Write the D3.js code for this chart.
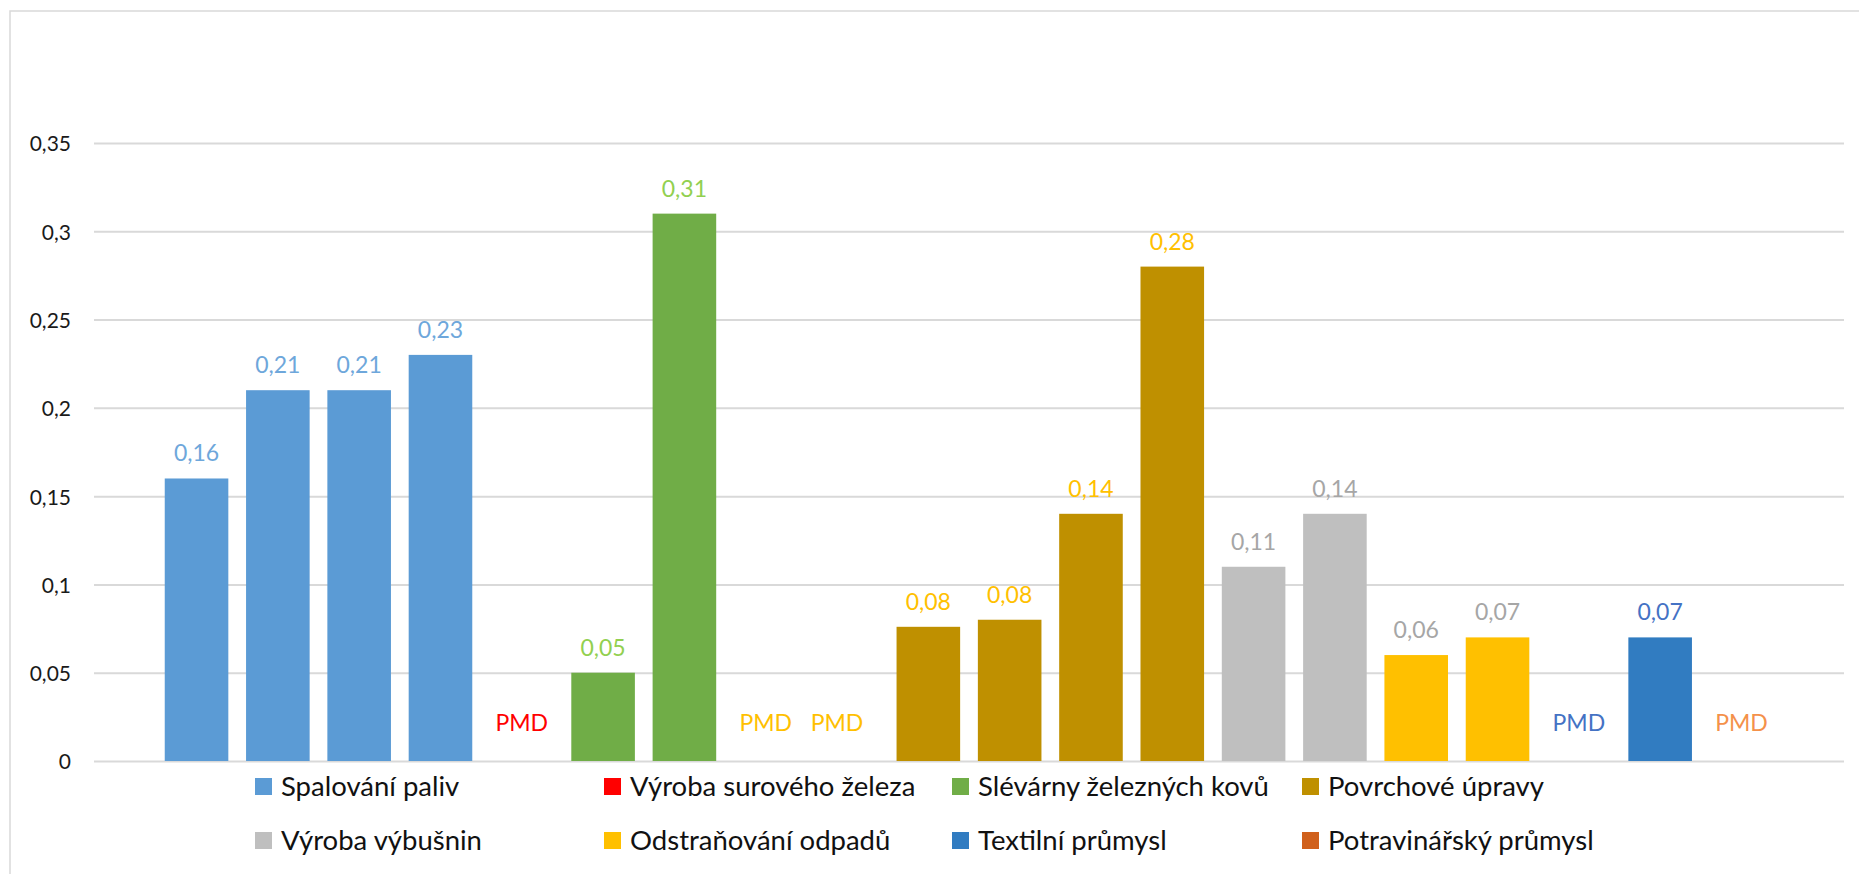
<!DOCTYPE html>
<html>
<head>
<meta charset="utf-8">
<script src="https://cdn.jsdelivr.net/npm/d3@7"></script>
<style>
  html, body { margin: 0; padding: 0; background: #ffffff; }
  svg { display: block; }
  text { font-family: Lato, "Open Sans", sans-serif; }
</style>
</head>
<body>
<svg id="chart" width="1859" height="874"></svg>
<script>
// Series (legend order)
const seriesNames = [
  "Spalování paliv",
  "Výroba surového železa",
  "Slévárny železných kovů",
  "Povrchové úpravy",
  "Výroba výbušnin",
  "Odstraňování odpadů",
  "Textilní průmysl",
  "Potravinářský průmysl"
];

// One bar slot per measurement: which series it belongs to and its value (null = PMD)
const slotSeries = [0, 0, 0, 0, 1, 2, 2, 3, 3, 3, 3, 3, 3, 4, 4, 5, 5, 6, 6, 7];
const slotValues = [0.16, 0.21, 0.21, 0.23, null, 0.05, 0.31, null, null, 0.076, 0.08, 0.14, 0.28, 0.11, 0.14, 0.06, 0.07, null, 0.07, null];
const missingText = "PMD";

// Value axis ticks
const yTicks = [0, 0.05, 0.1, 0.15, 0.2, 0.25, 0.3, 0.35];

// Styling
const barColors   = ["#5B9BD5", "#FF0000", "#70AD47", "#BF9000", "#BFBFBF", "#FFC000", "#317CC1", "#D0601C"];
const labelColors = ["#6EA7DB", "#FF0000", "#92D050", "#FFC000", "#A6A6A6", "#A6A6A6", "#4472C4", "#F4914A"];

const svg = d3.select("#chart");
const W = 1859, H = 874;
const plot = { left: 94, right: 1844, top: 143, bottom: 761 };

// Chart frame
svg.append("rect")
  .attr("x", 10).attr("y", 11)
  .attr("width", W + 20).attr("height", H + 20)
  .attr("fill", "#ffffff")
  .attr("stroke", "#D9D9D9").attr("stroke-width", 1.5);

const y = d3.scaleLinear().domain([0, 0.35]).range([plot.bottom, plot.top]);
const x = d3.scaleBand()
  .domain(d3.range(slotValues.length))
  .range([plot.left, plot.right])
  .paddingInner(0.218)
  .paddingOuter(0.87);

const fmt = v => d3.format(".2f")(v).replace(".", ",");
const tickFmt = v => v === 0 ? "0" : String(+v.toFixed(2)).replace(".", ",");

// Gridlines + tick labels via axis
const yAxis = d3.axisLeft(y)
  .tickValues(yTicks)
  .tickSize(-(plot.right - plot.left))
  .tickPadding(23)
  .tickFormat(tickFmt);

const gAxis = svg.append("g")
  .attr("transform", `translate(${plot.left},0)`)
  .call(yAxis);
gAxis.select(".domain").remove();
gAxis.selectAll(".tick line").attr("stroke", "#D9D9D9").attr("stroke-width", 2);
gAxis.selectAll(".tick text")
  .attr("fill", "#1a1a1a")
  .style("font-size", "21px")
  .attr("dy", "0.38em");

const slots = slotValues.map((v, i) => ({ i, v, s: slotSeries[i] }));

// Bars
svg.append("g").selectAll("rect")
  .data(slots.filter(d => d.v !== null))
  .join("rect")
  .attr("x", d => x(d.i))
  .attr("width", x.bandwidth())
  .attr("y", d => y(d.v))
  .attr("height", d => y(0) - y(d.v))
  .attr("fill", d => barColors[d.s]);

// Small horizontal nudges for labels that sit off-centre
const labelNudge = { 8: -10 };

// Data labels
svg.append("g").selectAll("text")
  .data(slots)
  .join("text")
  .attr("x", d => x(d.i) + x.bandwidth() / 2 + (labelNudge[d.i] || 0))
  .attr("y", d => d.v === null ? y(0) - 30 : y(d.v) - 17)
  .attr("text-anchor", "middle")
  .attr("fill", d => labelColors[d.s])
  .style("font-size", "23px")
  .text(d => d.v === null ? missingText : fmt(d.v));

// Legend: 4 columns x 2 rows
const legendCols = [255, 604, 952, 1302];
const legendRows = [786, 840];
const lg = svg.append("g").selectAll("g")
  .data(seriesNames)
  .join("g")
  .attr("transform", (d, i) => `translate(${legendCols[i % 4]},${legendRows[Math.floor(i / 4)]})`);
lg.append("rect")
  .attr("x", 0).attr("y", -8)
  .attr("width", 17).attr("height", 17)
  .attr("fill", (d, i) => barColors[i]);
lg.append("text")
  .attr("x", 26).attr("y", 0)
  .attr("dy", "0.36em")
  .attr("fill", "#111111")
  .style("font-size", "27.5px")
  .text(d => d);
</script>
</body>
</html>
